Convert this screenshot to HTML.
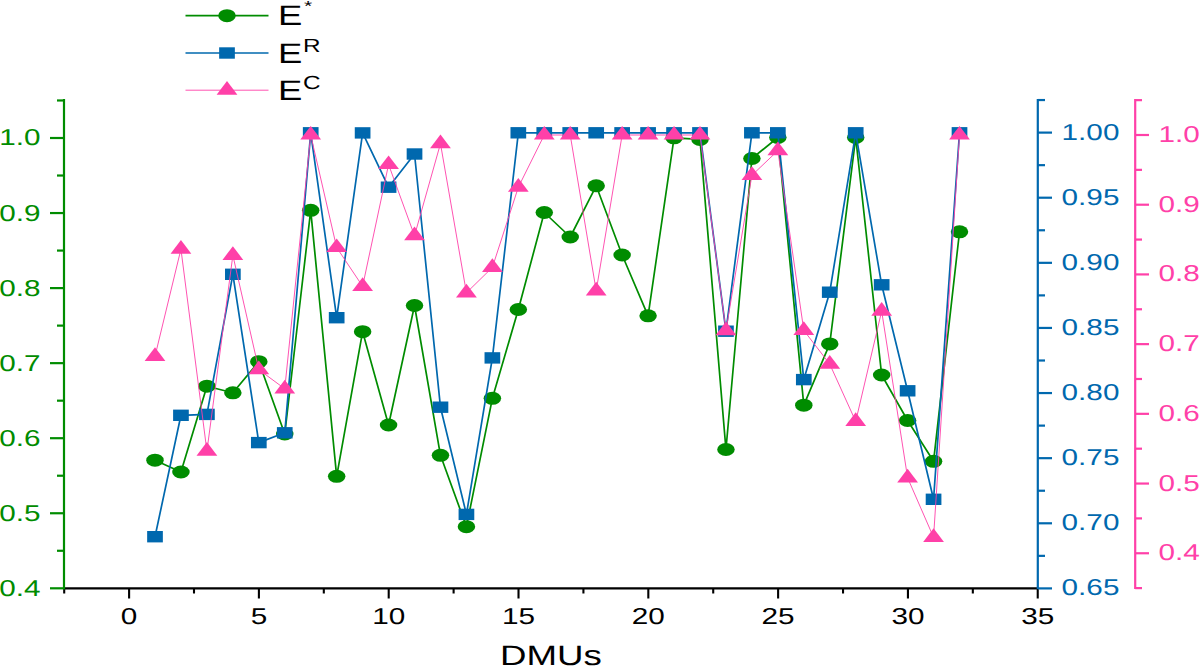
<!DOCTYPE html><html><head><meta charset="utf-8"><style>html,body{margin:0;padding:0;background:#fff;width:1200px;height:666px;overflow:hidden}svg{display:block}text{font-family:"Liberation Sans",sans-serif;text-rendering:geometricPrecision}</style></head><body>
<svg width="1200" height="666" viewBox="0 0 1200 666">
<rect width="1200" height="666" fill="#fff"/>
<g stroke="#000" stroke-width="2.1" fill="none">
<line x1="64" y1="588.4" x2="1038" y2="588.4"/>
<line x1="129.10" y1="588.4" x2="129.10" y2="598.5"/>
<line x1="258.90" y1="588.4" x2="258.90" y2="598.5"/>
<line x1="388.71" y1="588.4" x2="388.71" y2="598.5"/>
<line x1="518.51" y1="588.4" x2="518.51" y2="598.5"/>
<line x1="648.32" y1="588.4" x2="648.32" y2="598.5"/>
<line x1="778.12" y1="588.4" x2="778.12" y2="598.5"/>
<line x1="907.93" y1="588.4" x2="907.93" y2="598.5"/>
<line x1="1037.73" y1="588.4" x2="1037.73" y2="598.5"/>
<line x1="64.20" y1="588.4" x2="64.20" y2="593.5"/>
<line x1="194.00" y1="588.4" x2="194.00" y2="593.5"/>
<line x1="323.81" y1="588.4" x2="323.81" y2="593.5"/>
<line x1="453.61" y1="588.4" x2="453.61" y2="593.5"/>
<line x1="583.42" y1="588.4" x2="583.42" y2="593.5"/>
<line x1="713.22" y1="588.4" x2="713.22" y2="593.5"/>
<line x1="843.03" y1="588.4" x2="843.03" y2="593.5"/>
<line x1="972.83" y1="588.4" x2="972.83" y2="593.5"/>
</g>
<text transform="translate(129.10,624) scale(1.2913,1)" font-size="23" fill="#000" text-anchor="middle">0</text>
<text transform="translate(258.90,624) scale(1.2913,1)" font-size="23" fill="#000" text-anchor="middle">5</text>
<text transform="translate(388.71,624) scale(1.2913,1)" font-size="23" fill="#000" text-anchor="middle">10</text>
<text transform="translate(518.51,624) scale(1.2913,1)" font-size="23" fill="#000" text-anchor="middle">15</text>
<text transform="translate(648.32,624) scale(1.2913,1)" font-size="23" fill="#000" text-anchor="middle">20</text>
<text transform="translate(778.12,624) scale(1.2913,1)" font-size="23" fill="#000" text-anchor="middle">25</text>
<text transform="translate(907.93,624) scale(1.2913,1)" font-size="23" fill="#000" text-anchor="middle">30</text>
<text transform="translate(1037.73,624) scale(1.2913,1)" font-size="23" fill="#000" text-anchor="middle">35</text>
<text transform="translate(551.00,665) scale(1.3050,1)" font-size="28.1" fill="#000" text-anchor="middle">DMUs</text>
<g stroke="#008C00" stroke-width="2.2" fill="none">
<line x1="64" y1="99" x2="64" y2="589.4"/>
<line x1="50" y1="588.30" x2="64" y2="588.30"/>
<line x1="50" y1="513.25" x2="64" y2="513.25"/>
<line x1="50" y1="438.20" x2="64" y2="438.20"/>
<line x1="50" y1="363.15" x2="64" y2="363.15"/>
<line x1="50" y1="288.10" x2="64" y2="288.10"/>
<line x1="50" y1="213.05" x2="64" y2="213.05"/>
<line x1="50" y1="138.00" x2="64" y2="138.00"/>
<line x1="57" y1="550.77" x2="64" y2="550.77"/>
<line x1="57" y1="475.72" x2="64" y2="475.72"/>
<line x1="57" y1="400.67" x2="64" y2="400.67"/>
<line x1="57" y1="325.62" x2="64" y2="325.62"/>
<line x1="57" y1="250.57" x2="64" y2="250.57"/>
<line x1="57" y1="175.52" x2="64" y2="175.52"/>
<line x1="57" y1="100.47" x2="64" y2="100.47"/>
</g>
<text transform="translate(40.50,596) scale(1.2913,1)" font-size="23" fill="#008C00" text-anchor="end">0.4</text>
<text transform="translate(40.50,521) scale(1.2913,1)" font-size="23" fill="#008C00" text-anchor="end">0.5</text>
<text transform="translate(40.50,446) scale(1.2913,1)" font-size="23" fill="#008C00" text-anchor="end">0.6</text>
<text transform="translate(40.50,371) scale(1.2913,1)" font-size="23" fill="#008C00" text-anchor="end">0.7</text>
<text transform="translate(40.50,296) scale(1.2913,1)" font-size="23" fill="#008C00" text-anchor="end">0.8</text>
<text transform="translate(40.50,221) scale(1.2913,1)" font-size="23" fill="#008C00" text-anchor="end">0.9</text>
<text transform="translate(40.50,145) scale(1.2913,1)" font-size="23" fill="#008C00" text-anchor="end">1.0</text>
<g stroke="#0068AE" stroke-width="2.2" fill="none">
<line x1="1037.8" y1="99" x2="1037.8" y2="589"/>
<line x1="1037.8" y1="588.40" x2="1052" y2="588.40"/>
<line x1="1037.8" y1="523.29" x2="1052" y2="523.29"/>
<line x1="1037.8" y1="458.17" x2="1052" y2="458.17"/>
<line x1="1037.8" y1="393.06" x2="1052" y2="393.06"/>
<line x1="1037.8" y1="327.94" x2="1052" y2="327.94"/>
<line x1="1037.8" y1="262.83" x2="1052" y2="262.83"/>
<line x1="1037.8" y1="197.71" x2="1052" y2="197.71"/>
<line x1="1037.8" y1="132.60" x2="1052" y2="132.60"/>
<line x1="1037.8" y1="555.85" x2="1045" y2="555.85"/>
<line x1="1037.8" y1="490.73" x2="1045" y2="490.73"/>
<line x1="1037.8" y1="425.62" x2="1045" y2="425.62"/>
<line x1="1037.8" y1="360.50" x2="1045" y2="360.50"/>
<line x1="1037.8" y1="295.39" x2="1045" y2="295.39"/>
<line x1="1037.8" y1="230.27" x2="1045" y2="230.27"/>
<line x1="1037.8" y1="165.16" x2="1045" y2="165.16"/>
<line x1="1037.8" y1="100.04" x2="1045" y2="100.04"/>
</g>
<text transform="translate(1061.60,595) scale(1.2913,1)" font-size="23" fill="#0068AE" text-anchor="start">0.65</text>
<text transform="translate(1061.60,530) scale(1.2913,1)" font-size="23" fill="#0068AE" text-anchor="start">0.70</text>
<text transform="translate(1061.60,465) scale(1.2913,1)" font-size="23" fill="#0068AE" text-anchor="start">0.75</text>
<text transform="translate(1061.60,400) scale(1.2913,1)" font-size="23" fill="#0068AE" text-anchor="start">0.80</text>
<text transform="translate(1061.60,335) scale(1.2913,1)" font-size="23" fill="#0068AE" text-anchor="start">0.85</text>
<text transform="translate(1061.60,270) scale(1.2913,1)" font-size="23" fill="#0068AE" text-anchor="start">0.90</text>
<text transform="translate(1061.60,205) scale(1.2913,1)" font-size="23" fill="#0068AE" text-anchor="start">0.95</text>
<text transform="translate(1061.60,140) scale(1.2913,1)" font-size="23" fill="#0068AE" text-anchor="start">1.00</text>
<g stroke="#FF40A8" stroke-width="2.2" fill="none">
<line x1="1135.2" y1="99" x2="1135.2" y2="589"/>
<line x1="1135.2" y1="553.26" x2="1149" y2="553.26"/>
<line x1="1135.2" y1="483.55" x2="1149" y2="483.55"/>
<line x1="1135.2" y1="413.84" x2="1149" y2="413.84"/>
<line x1="1135.2" y1="344.13" x2="1149" y2="344.13"/>
<line x1="1135.2" y1="274.42" x2="1149" y2="274.42"/>
<line x1="1135.2" y1="204.71" x2="1149" y2="204.71"/>
<line x1="1135.2" y1="135.00" x2="1149" y2="135.00"/>
<line x1="1135.2" y1="588.12" x2="1142" y2="588.12"/>
<line x1="1135.2" y1="518.40" x2="1142" y2="518.40"/>
<line x1="1135.2" y1="448.69" x2="1142" y2="448.69"/>
<line x1="1135.2" y1="378.99" x2="1142" y2="378.99"/>
<line x1="1135.2" y1="309.27" x2="1142" y2="309.27"/>
<line x1="1135.2" y1="239.56" x2="1142" y2="239.56"/>
<line x1="1135.2" y1="169.85" x2="1142" y2="169.85"/>
<line x1="1135.2" y1="100.14" x2="1142" y2="100.14"/>
</g>
<text transform="translate(1158.60,560) scale(1.2913,1)" font-size="23" fill="#FF40A8" text-anchor="start">0.4</text>
<text transform="translate(1158.60,491) scale(1.2913,1)" font-size="23" fill="#FF40A8" text-anchor="start">0.5</text>
<text transform="translate(1158.60,421) scale(1.2913,1)" font-size="23" fill="#FF40A8" text-anchor="start">0.6</text>
<text transform="translate(1158.60,351) scale(1.2913,1)" font-size="23" fill="#FF40A8" text-anchor="start">0.7</text>
<text transform="translate(1158.60,281) scale(1.2913,1)" font-size="23" fill="#FF40A8" text-anchor="start">0.8</text>
<text transform="translate(1158.60,212) scale(1.2913,1)" font-size="23" fill="#FF40A8" text-anchor="start">0.9</text>
<text transform="translate(1158.60,142) scale(1.2913,1)" font-size="23" fill="#FF40A8" text-anchor="start">1.0</text>
<polyline points="155.00,460.20 180.95,472.00 206.91,386.20 232.86,392.80 258.81,361.70 284.76,434.00 310.71,210.30 336.67,476.30 362.62,331.70 388.57,425.00 414.52,305.50 440.47,455.30 466.43,526.70 492.38,398.30 518.33,309.50 544.28,212.50 570.23,237.00 596.19,185.80 622.14,255.00 648.09,315.80 674.04,137.80 699.99,139.40 725.95,449.50 751.90,158.50 777.85,137.50 803.80,405.20 829.75,343.90 855.71,137.50 881.66,375.00 907.61,420.50 933.56,461.30 959.51,231.80" fill="none" stroke="#008C00" stroke-width="1.7" stroke-linejoin="round"/>
<g fill="#008C00"><ellipse cx="155.00" cy="460.20" rx="8.75" ry="6.5"/><ellipse cx="180.95" cy="472.00" rx="8.75" ry="6.5"/><ellipse cx="206.91" cy="386.20" rx="8.75" ry="6.5"/><ellipse cx="232.86" cy="392.80" rx="8.75" ry="6.5"/><ellipse cx="258.81" cy="361.70" rx="8.75" ry="6.5"/><ellipse cx="284.76" cy="434.00" rx="8.75" ry="6.5"/><ellipse cx="310.71" cy="210.30" rx="8.75" ry="6.5"/><ellipse cx="336.67" cy="476.30" rx="8.75" ry="6.5"/><ellipse cx="362.62" cy="331.70" rx="8.75" ry="6.5"/><ellipse cx="388.57" cy="425.00" rx="8.75" ry="6.5"/><ellipse cx="414.52" cy="305.50" rx="8.75" ry="6.5"/><ellipse cx="440.47" cy="455.30" rx="8.75" ry="6.5"/><ellipse cx="466.43" cy="526.70" rx="8.75" ry="6.5"/><ellipse cx="492.38" cy="398.30" rx="8.75" ry="6.5"/><ellipse cx="518.33" cy="309.50" rx="8.75" ry="6.5"/><ellipse cx="544.28" cy="212.50" rx="8.75" ry="6.5"/><ellipse cx="570.23" cy="237.00" rx="8.75" ry="6.5"/><ellipse cx="596.19" cy="185.80" rx="8.75" ry="6.5"/><ellipse cx="622.14" cy="255.00" rx="8.75" ry="6.5"/><ellipse cx="648.09" cy="315.80" rx="8.75" ry="6.5"/><ellipse cx="674.04" cy="137.80" rx="8.75" ry="6.5"/><ellipse cx="699.99" cy="139.40" rx="8.75" ry="6.5"/><ellipse cx="725.95" cy="449.50" rx="8.75" ry="6.5"/><ellipse cx="751.90" cy="158.50" rx="8.75" ry="6.5"/><ellipse cx="777.85" cy="137.50" rx="8.75" ry="6.5"/><ellipse cx="803.80" cy="405.20" rx="8.75" ry="6.5"/><ellipse cx="829.75" cy="343.90" rx="8.75" ry="6.5"/><ellipse cx="855.71" cy="137.50" rx="8.75" ry="6.5"/><ellipse cx="881.66" cy="375.00" rx="8.75" ry="6.5"/><ellipse cx="907.61" cy="420.50" rx="8.75" ry="6.5"/><ellipse cx="933.56" cy="461.30" rx="8.75" ry="6.5"/><ellipse cx="959.51" cy="231.80" rx="8.75" ry="6.5"/></g>
<polyline points="155.00,536.70 180.95,415.30 206.91,414.40 232.86,274.30 258.81,442.60 284.76,432.80 310.71,132.80 336.67,317.70 362.62,132.90 388.57,187.20 414.52,154.00 440.47,407.20 466.43,514.40 492.38,357.90 518.33,132.80 544.28,132.80 570.23,132.80 596.19,132.80 622.14,132.80 648.09,132.80 674.04,132.80 699.99,132.80 725.95,331.20 751.90,132.80 777.85,132.80 803.80,379.60 829.75,292.20 855.71,132.80 881.66,284.80 907.61,390.80 933.56,499.30 959.51,132.80" fill="none" stroke="#0068AE" stroke-width="1.7" stroke-linejoin="round"/>
<g fill="#0068AE"><rect x="147.15" y="531.00" width="15.7" height="11.4"/><rect x="173.10" y="409.60" width="15.7" height="11.4"/><rect x="199.06" y="408.70" width="15.7" height="11.4"/><rect x="225.01" y="268.60" width="15.7" height="11.4"/><rect x="250.96" y="436.90" width="15.7" height="11.4"/><rect x="276.91" y="427.10" width="15.7" height="11.4"/><rect x="302.86" y="127.10" width="15.7" height="11.4"/><rect x="328.82" y="312.00" width="15.7" height="11.4"/><rect x="354.77" y="127.20" width="15.7" height="11.4"/><rect x="380.72" y="181.50" width="15.7" height="11.4"/><rect x="406.67" y="148.30" width="15.7" height="11.4"/><rect x="432.62" y="401.50" width="15.7" height="11.4"/><rect x="458.58" y="508.70" width="15.7" height="11.4"/><rect x="484.53" y="352.20" width="15.7" height="11.4"/><rect x="510.48" y="127.10" width="15.7" height="11.4"/><rect x="536.43" y="127.10" width="15.7" height="11.4"/><rect x="562.38" y="127.10" width="15.7" height="11.4"/><rect x="588.34" y="127.10" width="15.7" height="11.4"/><rect x="614.29" y="127.10" width="15.7" height="11.4"/><rect x="640.24" y="127.10" width="15.7" height="11.4"/><rect x="666.19" y="127.10" width="15.7" height="11.4"/><rect x="692.14" y="127.10" width="15.7" height="11.4"/><rect x="718.10" y="325.50" width="15.7" height="11.4"/><rect x="744.05" y="127.10" width="15.7" height="11.4"/><rect x="770.00" y="127.10" width="15.7" height="11.4"/><rect x="795.95" y="373.90" width="15.7" height="11.4"/><rect x="821.90" y="286.50" width="15.7" height="11.4"/><rect x="847.86" y="127.10" width="15.7" height="11.4"/><rect x="873.81" y="279.10" width="15.7" height="11.4"/><rect x="899.76" y="385.10" width="15.7" height="11.4"/><rect x="925.71" y="493.60" width="15.7" height="11.4"/><rect x="951.66" y="127.10" width="15.7" height="11.4"/></g>
<polyline points="155.00,356.30 180.95,249.10 206.91,451.10 232.86,255.30 258.81,369.60 284.76,388.80 310.71,135.00 336.67,247.50 362.62,286.30 388.57,164.50 414.52,235.70 440.47,143.60 466.43,292.80 492.38,267.40 518.33,187.20 544.28,135.00 570.23,135.00 596.19,290.80 622.14,135.00 648.09,135.00 674.04,135.00 699.99,135.00 725.95,330.60 751.90,175.30 777.85,150.60 803.80,330.40 829.75,364.10 855.71,421.40 881.66,311.10 907.61,477.80 933.56,537.30 959.51,135.00" fill="none" stroke="#FF40A8" stroke-width="0.9" stroke-linejoin="round"/>
<g fill="#FF40A8"><polygon points="155.00,347.20 165.40,360.90 144.60,360.90"/><polygon points="180.95,240.00 191.35,253.70 170.55,253.70"/><polygon points="206.91,442.00 217.31,455.70 196.51,455.70"/><polygon points="232.86,246.20 243.26,259.90 222.46,259.90"/><polygon points="258.81,360.50 269.21,374.20 248.41,374.20"/><polygon points="284.76,379.70 295.16,393.40 274.36,393.40"/><polygon points="310.71,125.90 321.11,139.60 300.31,139.60"/><polygon points="336.67,238.40 347.07,252.10 326.27,252.10"/><polygon points="362.62,277.20 373.02,290.90 352.22,290.90"/><polygon points="388.57,155.40 398.97,169.10 378.17,169.10"/><polygon points="414.52,226.60 424.92,240.30 404.12,240.30"/><polygon points="440.47,134.50 450.87,148.20 430.07,148.20"/><polygon points="466.43,283.70 476.83,297.40 456.03,297.40"/><polygon points="492.38,258.30 502.78,272.00 481.98,272.00"/><polygon points="518.33,178.10 528.73,191.80 507.93,191.80"/><polygon points="544.28,125.90 554.68,139.60 533.88,139.60"/><polygon points="570.23,125.90 580.63,139.60 559.83,139.60"/><polygon points="596.19,281.70 606.59,295.40 585.79,295.40"/><polygon points="622.14,125.90 632.54,139.60 611.74,139.60"/><polygon points="648.09,125.90 658.49,139.60 637.69,139.60"/><polygon points="674.04,125.90 684.44,139.60 663.64,139.60"/><polygon points="699.99,125.90 710.39,139.60 689.59,139.60"/><polygon points="725.95,321.50 736.35,335.20 715.55,335.20"/><polygon points="751.90,166.20 762.30,179.90 741.50,179.90"/><polygon points="777.85,141.50 788.25,155.20 767.45,155.20"/><polygon points="803.80,321.30 814.20,335.00 793.40,335.00"/><polygon points="829.75,355.00 840.15,368.70 819.35,368.70"/><polygon points="855.71,412.30 866.11,426.00 845.31,426.00"/><polygon points="881.66,302.00 892.06,315.70 871.26,315.70"/><polygon points="907.61,468.70 918.01,482.40 897.21,482.40"/><polygon points="933.56,528.20 943.96,541.90 923.16,541.90"/><polygon points="959.51,125.90 969.91,139.60 949.11,139.60"/></g>
<line x1="185.5" y1="15.7" x2="268.5" y2="15.7" stroke="#008C00" stroke-width="1.7"/>
<ellipse cx="227" cy="15.7" rx="8.75" ry="6.5" fill="#008C00"/>
<line x1="185.5" y1="53.0" x2="268.5" y2="53.0" stroke="#0068AE" stroke-width="1.7"/>
<rect x="219.15" y="47.3" width="15.7" height="11.4" fill="#0068AE"/>
<line x1="185.5" y1="90.2" x2="268.5" y2="90.2" stroke="#FF40A8" stroke-width="0.9"/>
<g fill="#FF40A8"><polygon points="227.00,81.10 237.40,94.80 216.60,94.80"/></g>
<text transform="translate(278.00,25) scale(1.2970,1)" font-size="28.1" fill="#000" text-anchor="start">E</text>
<text transform="translate(303.90,11) scale(1.4500,1)" font-size="14.5" fill="#000" text-anchor="start">*</text>
<text transform="translate(278.00,63) scale(1.2970,1)" font-size="28.1" fill="#000" text-anchor="start">E</text>
<text transform="translate(303.00,52) scale(1.2800,1)" font-size="19" fill="#000" text-anchor="start">R</text>
<text transform="translate(278.00,100) scale(1.2970,1)" font-size="28.1" fill="#000" text-anchor="start">E</text>
<text transform="translate(303.00,89) scale(1.2800,1)" font-size="19" fill="#000" text-anchor="start">C</text>
</svg></body></html>
